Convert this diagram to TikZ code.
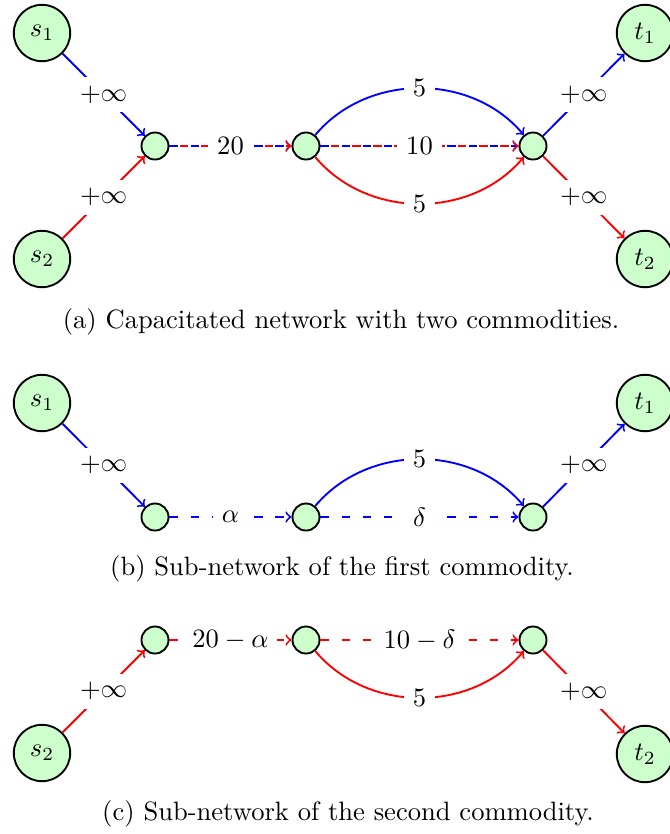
\documentclass[tikz,border=0pt]{standalone}
\usepackage{graphicx}
\usetikzlibrary{arrows}
\newcommand{\bigtxt}[1]{\scalebox{1.13}{#1}}
\begin{document}
\begin{tikzpicture}[x=0.4255pt,y=-0.4255pt,
  big/.style={circle,draw,thick,fill=green!20,minimum size=24pt,inner sep=0pt},
  small/.style={circle,draw,thick,fill=green!20,minimum size=11.5pt,inner sep=0pt},
  lab/.style={fill=white,text=black,midway,scale=1.13},
  captxt/.style={scale=1.13},
  arr/.style={->,thick},
  dsh/.style={dash pattern=on 3.6pt off 5.4pt},
  ph/.style={dash pattern=on 3.6pt off 5.4pt,dash phase=4.5pt}]
\useasboundingbox (0,0) rectangle (670,834);
% ---------------- (a)
\node[big] (s1a) at (42,33) {\bigtxt{$s_1$}};
\node[big] (s2a) at (42,259) {\bigtxt{$s_2$}};
\node[small] (a1) at (155,146) {};
\node[small] (a2) at (306,146) {};
\node[small] (a3) at (533,146) {};
\node[big] (t1a) at (645,33) {\bigtxt{$t_1$}};
\node[big] (t2a) at (645,259) {\bigtxt{$t_2$}};
\draw[arr,blue] (s1a) -- node[lab]{$+\infty$} (a1);
\draw[arr,red] (s2a) -- node[lab]{$+\infty$} (a1);
\draw[arr,blue,dsh] (a1) -- (a2);
\draw[arr,red,ph] (a1) -- node[lab]{$20$} (a2);
\draw[arr,blue] (a2) to[bend left=50] node[lab]{$5$} (a3);
\draw[arr,red] (a2) to[bend right=50] node[lab]{$5$} (a3);
\draw[arr,blue,dsh] (a2) -- (a3);
\draw[arr,red,ph] (a2) -- node[lab]{$10$} (a3);
\draw[arr,blue] (a3) -- node[lab]{$+\infty$} (t1a);
\draw[arr,red] (a3) -- node[lab]{$+\infty$} (t2a);
\node[captxt] (capa) at (341,322) {(a) Capacitated network with two commodities.};
% ---------------- (b)
\node[big] (s1b) at (42,403) {\bigtxt{$s_1$}};
\node[small] (b1) at (155,517) {};
\node[small] (b2) at (306,517) {};
\node[small] (b3) at (533,517) {};
\node[big] (t1b) at (645,403) {\bigtxt{$t_1$}};
\draw[arr,blue] (s1b) -- node[lab]{$+\infty$} (b1);
\draw[arr,blue,dsh] (b1) -- node[lab]{$\alpha$} (b2);
\draw[arr,blue] (b2) to[bend left=50] node[lab]{$5$} (b3);
\draw[arr,blue,dsh] (b2) -- node[lab]{$\delta$} (b3);
\draw[arr,blue] (b3) -- node[lab]{$+\infty$} (t1b);
\node[captxt] (capb) at (342,569) {(b) Sub-network of the first commodity.};
% ---------------- (c)
\node[small] (c1) at (155,640) {};
\node[small] (c2) at (306,640) {};
\node[small] (c3) at (533,640) {};
\node[big] (s2c) at (42,753) {\bigtxt{$s_2$}};
\node[big] (t2c) at (645,754) {\bigtxt{$t_2$}};
\draw[arr,red] (s2c) -- node[lab]{$+\infty$} (c1);
\draw[arr,red,dsh] (c1) -- node[lab]{$20-\alpha$} (c2);
\draw[arr,red,dsh] (c2) -- node[lab]{$10-\delta$} (c3);
\draw[arr,red] (c2) to[bend right=50] node[lab]{$5$} (c3);
\draw[arr,red] (c3) -- node[lab]{$+\infty$} (t2c);
\node[captxt] (capc) at (348,814) {(c) Sub-network of the second commodity.};
\end{tikzpicture}
\end{document}
